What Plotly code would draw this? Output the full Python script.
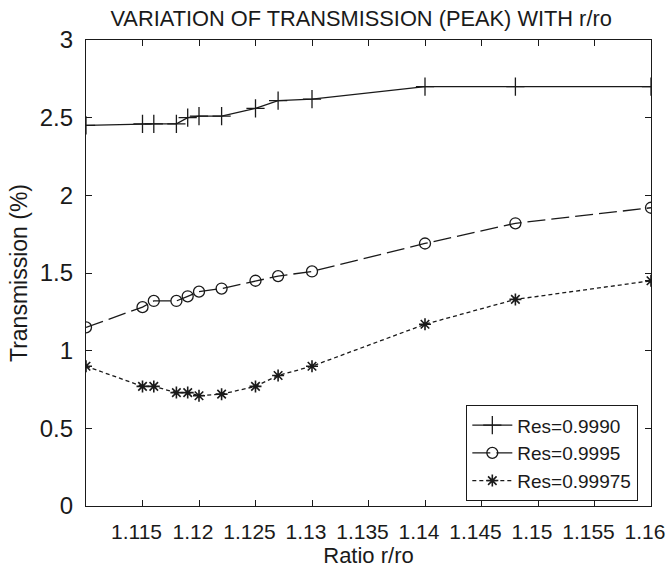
import plotly.graph_objects as go

# ---- data ----
ratio = [1.110, 1.115, 1.116, 1.118, 1.119, 1.120, 1.122, 1.125, 1.127, 1.130, 1.140, 1.148, 1.160]
res_9990 = [2.45, 2.46, 2.46, 2.46, 2.50, 2.51, 2.51, 2.56, 2.61, 2.62, 2.70, 2.70, 2.70]
res_9995 = [1.15, 1.28, 1.32, 1.32, 1.35, 1.38, 1.40, 1.45, 1.48, 1.51, 1.69, 1.82, 1.92]
res_99975 = [0.90, 0.77, 0.77, 0.73, 0.73, 0.71, 0.72, 0.77, 0.84, 0.90, 1.17, 1.33, 1.45]

x_tickvals = [1.115, 1.12, 1.125, 1.13, 1.135, 1.14, 1.145, 1.15, 1.155, 1.16]
x_ticktext = ["1.115", "1.12", "1.125", "1.13", "1.135", "1.14", "1.145", "1.15", "1.155", "1.16"]
y_tickvals = [0, 0.5, 1, 1.5, 2, 2.5, 3]
y_ticktext = ["0", "0.5", "1", "1.5", "2", "2.5", "3"]

ink = "#1a1a1a"
font = "Liberation Sans, Arial, sans-serif"

fig = go.Figure()
fig.add_trace(go.Scatter(
    x=ratio, y=res_9990, name="Res=0.9990", mode="lines+markers",
    line=dict(color=ink, width=1.3),
    marker=dict(symbol="cross-thin-open", size=13, color=ink, line=dict(color=ink, width=1.3)),
))
fig.add_trace(go.Scatter(
    x=ratio, y=res_9995, name="Res=0.9995", mode="lines+markers",
    line=dict(color=ink, width=1.3, dash="18px,6px"),
    marker=dict(symbol="circle-open", size=11, color=ink, line=dict(color=ink, width=1.3)),
))
fig.add_trace(go.Scatter(
    x=ratio, y=res_99975, name="Res=0.99975", mode="lines+markers",
    line=dict(color=ink, width=1.3, dash="4px,3px"),
    marker=dict(symbol="asterisk-open", size=10, color=ink, line=dict(color=ink, width=1.6)),
))

axis_common = dict(
    showline=True, linecolor=ink, linewidth=1.3, mirror="allticks",
    ticks="inside", ticklen=6, tickwidth=1.2, tickcolor=ink,
    showgrid=False, zeroline=False,
    ticklabeloverflow="allow", tickangle=0, automargin=False,
)

fig.update_layout(
    width=667, height=571,
    margin=dict(l=86, r=16, t=40, b=65),
    paper_bgcolor="white", plot_bgcolor="white",
    title=dict(text="VARIATION OF TRANSMISSION (PEAK) WITH r/ro",
               font=dict(family=font, size=21.8, color=ink),
               x=0.487, xref="paper", xanchor="center",
               y=1 - 18 / 571, yref="container", yanchor="middle"),
    xaxis=dict(range=[1.11, 1.16], tickvals=x_tickvals, ticktext=x_ticktext,
               ticklabelstandoff=7, ticklabelshift=-6,
               tickfont=dict(family=font, size=21, color=ink),
               title=dict(text="Ratio r/ro", font=dict(family=font, size=22, color=ink), standoff=4),
               **axis_common),
    yaxis=dict(range=[0, 3], tickvals=y_tickvals, ticktext=y_ticktext,
               ticklabelstandoff=7,
               tickfont=dict(family=font, size=24, color=ink),
               title=dict(text="Transmission (%)", font=dict(family=font, size=23, color=ink), standoff=5),
               **axis_common),
    legend=dict(x=0.6726, y=0.2167, xanchor="left", yanchor="top",
                bordercolor=ink, borderwidth=1.3, bgcolor="white",
                font=dict(family=font, size=19, color=ink),
                tracegroupgap=0, itemwidth=40),
    showlegend=True,
)

fig.write_html("out.html")
